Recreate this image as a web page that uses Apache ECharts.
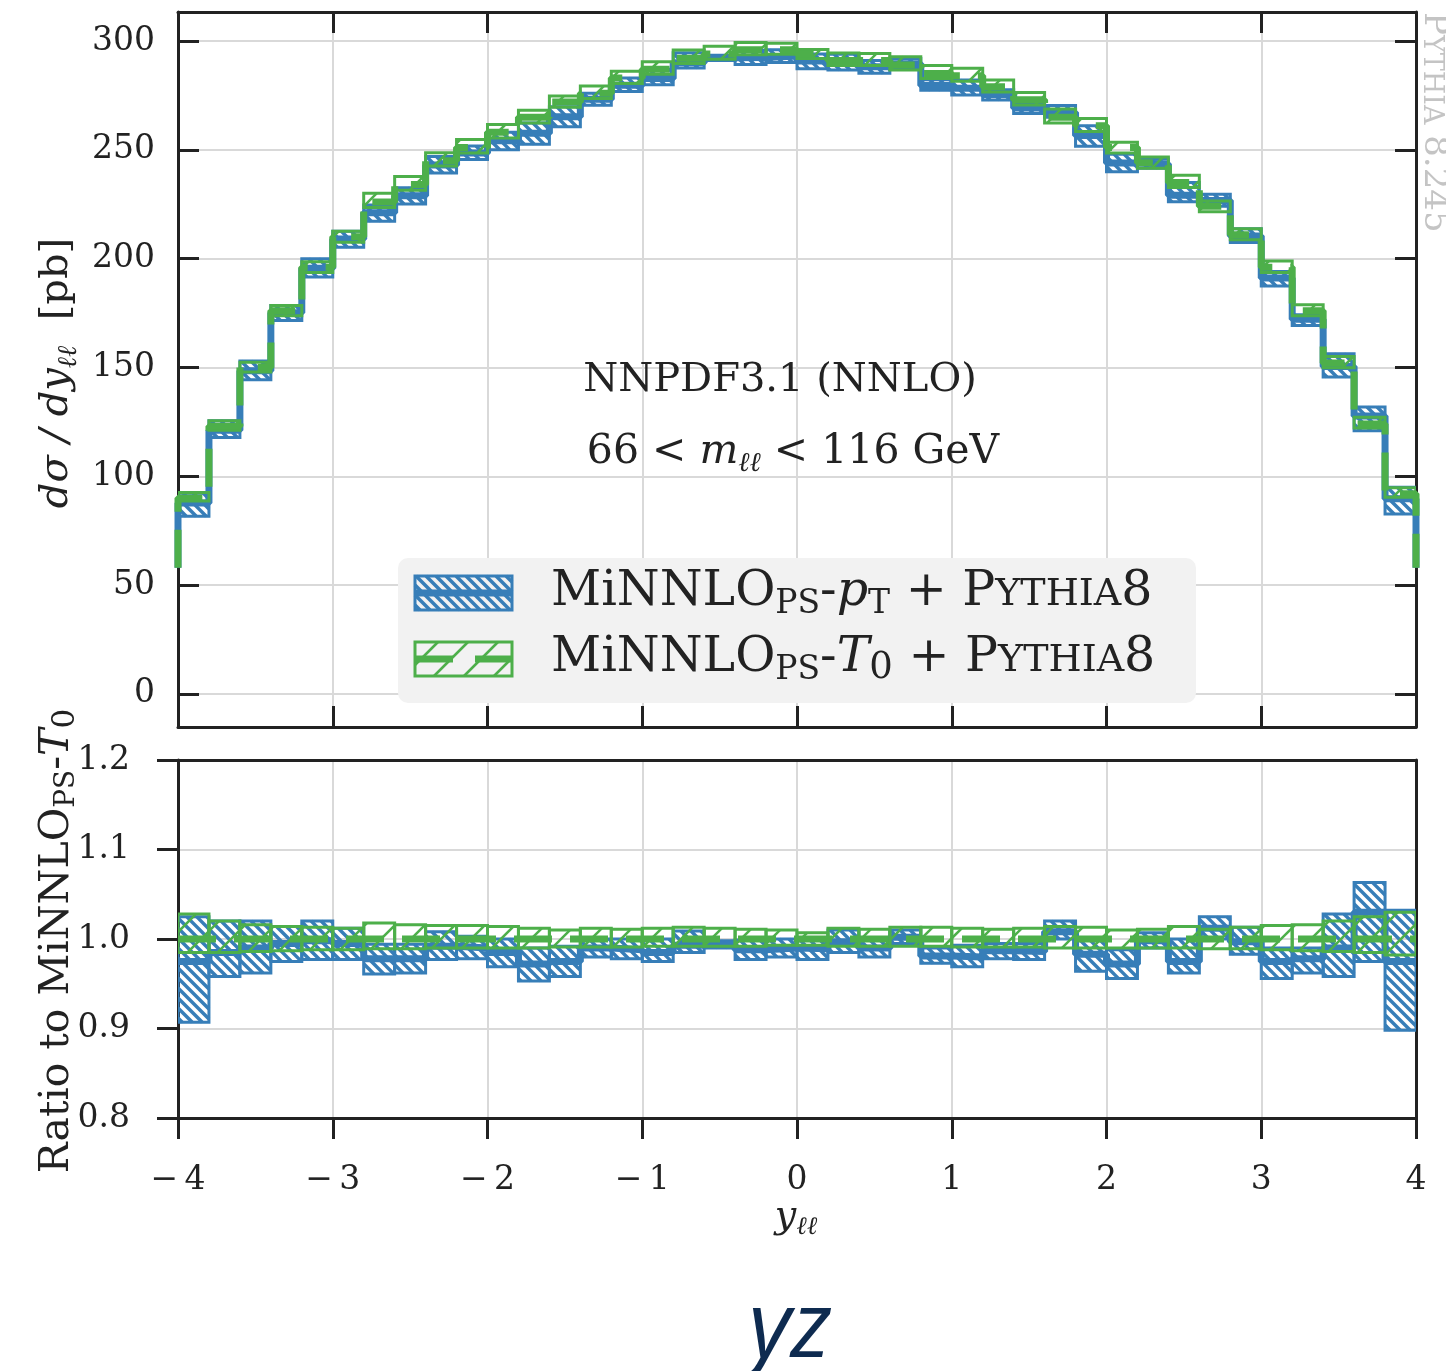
<!DOCTYPE html>
<html>
<head>
<meta charset="utf-8">
<script src="https://cdn.jsdelivr.net/npm/echarts@6/dist/echarts.min.js"></script>
<style>
  html, body { margin: 0; padding: 0; background: #fff; }
  #chart { width: 1446px; height: 1371px; }
</style>
</head>
<body>
<div id="chart"></div>
<script>
// ---- data ----
const binStart = -4.0;
const binWidth = 0.2;

// MiNNLO_PS-T0 + PYTHIA8 central value, dsigma/dy_ll [pb], 40 bins from -4 to 4
const t0Central = [90, 123, 150, 176, 196, 210, 226, 234, 245, 251,
                   258, 265, 272, 276, 283, 287, 292, 294, 296, 296,
                   294, 291, 291, 289, 285, 284, 279, 273, 265, 261,
                   251, 244, 235, 224, 211, 196, 176, 152, 124, 92];
// bins just outside the axis range (only their vertical edge is visible)
const outerLeft = 58;
const outerRight = 58;

// ratio to MiNNLO_PS-T0: pT variant, central and band
const ptRatio = [0.975, 0.985, 0.990, 0.995, 0.998, 0.995, 0.978, 0.978, 0.992, 0.990,
                 0.985, 0.972, 0.975, 0.990, 0.988, 0.985, 0.993, 0.994, 0.988, 0.990,
                 0.989, 0.997, 0.990, 1.002, 0.981, 0.980, 0.987, 0.986, 1.008, 0.983,
                 0.972, 0.998, 0.975, 1.012, 0.997, 0.975, 0.978, 0.990, 1.030, 0.975];
const ptRatioLo = [0.907, 0.958, 0.962, 0.975, 0.977, 0.977, 0.961, 0.962, 0.977, 0.978,
                   0.969, 0.953, 0.958, 0.980, 0.978, 0.975, 0.985, 0.990, 0.977, 0.980,
                   0.977, 0.985, 0.980, 0.995, 0.973, 0.969, 0.978, 0.977, 1.000, 0.964,
                   0.956, 0.990, 0.962, 1.000, 0.983, 0.956, 0.962, 0.958, 0.975, 0.898];
const ptRatioHi = [1.025, 1.020, 1.020, 1.014, 1.020, 1.012, 0.994, 0.994, 1.008, 1.003,
                   1.000, 0.990, 0.992, 1.000, 1.000, 1.000, 1.009, 0.998, 0.999, 1.000,
                   1.000, 1.010, 1.000, 1.010, 0.990, 0.993, 0.995, 0.995, 1.020, 1.000,
                   0.988, 1.007, 1.000, 1.025, 1.013, 0.990, 0.990, 1.028, 1.063, 1.032];
// ratio to MiNNLO_PS-T0: T0 band (its own scale uncertainty)
const t0RatioLo = [0.985, 0.985, 0.986, 0.987, 0.988, 0.988, 0.989, 0.989, 0.990, 0.990,
                   0.990, 0.990, 0.991, 0.991, 0.991, 0.992, 0.992, 0.992, 0.992, 0.993,
                   0.993, 0.992, 0.992, 0.992, 0.992, 0.991, 0.991, 0.991, 0.990, 0.990,
                   0.990, 0.990, 0.990, 0.989, 0.989, 0.988, 0.987, 0.986, 0.985, 0.982];
const t0RatioHi = [1.028, 1.020, 1.016, 1.014, 1.013, 1.012, 1.018, 1.016, 1.015, 1.015,
                   1.014, 1.012, 1.010, 1.012, 1.011, 1.012, 1.013, 1.012, 1.011, 1.010,
                   1.007, 1.012, 1.011, 1.013, 1.013, 1.012, 1.011, 1.012, 1.014, 1.013,
                   1.010, 1.011, 1.014, 1.011, 1.013, 1.015, 1.016, 1.020, 1.025, 1.030];

const yTicksTop = [0, 50, 100, 150, 200, 250, 300];

// ---- styling ----
const BLUE = '#377eb8';
const GREEN = '#4daf4a';
const INK = '#222';
const GRID = '#d9d9d9';
const SERIF = 'DejaVu Serif';
const blueHatch = {dir: 'back', step: 10, width: 3.5, border: 3};
const greenHatch = {dir: 'fwd', step: 30, width: 2.5, border: 3};

// ---- build series data ----
const binLo = t0Central.map((_, i) => +(binStart + i * binWidth).toFixed(2));
const binHi = binLo.map(x => +(x + binWidth).toFixed(2));
const xEnd = binHi[binHi.length - 1];

function stepLine(vals, left, right) {
  const pts = [];
  if (left !== undefined) pts.push([binStart, left]);
  vals.forEach((v, i) => pts.push([binLo[i], v]));
  pts.push([xEnd, right !== undefined ? right : vals[vals.length - 1]]);
  return pts;
}

const ptCentralTop = t0Central.map((v, i) => v * ptRatio[i]);
const ptBandTop = t0Central.map((v, i) => [binLo[i], binHi[i], v * ptRatioLo[i], v * ptRatioHi[i]]);
const t0BandTop = t0Central.map((v, i) => [binLo[i], binHi[i], v * t0RatioLo[i], v * t0RatioHi[i]]);
const ptBandRatio = ptRatio.map((_, i) => [binLo[i], binHi[i], ptRatioLo[i], ptRatioHi[i]]);
const t0BandRatio = t0RatioLo.map((_, i) => [binLo[i], binHi[i], t0RatioLo[i], t0RatioHi[i]]);
const t0CentralRatio = t0Central.map(() => 1.0); // reference divided by itself

// hatched rectangle in pixel space
function hatchRect(x0, y0, x1, y1, color, hatch, z) {
  const out = [];
  const s = hatch.step;
  const zz = z || 0;
  if (hatch.dir === 'back') {
    for (let c = Math.floor((y0 - x1) / s) * s; c <= y1 - x0; c += s) {
      const xa = Math.max(x0, y0 - c), xb = Math.min(x1, y1 - c);
      if (xb - xa > 0.5) out.push({type: 'line', silent: true, z: zz,
        shape: {x1: xa, y1: xa + c, x2: xb, y2: xb + c},
        style: {stroke: color, lineWidth: hatch.width}});
    }
  } else {
    for (let c = Math.floor((x0 + y0) / s) * s; c <= x1 + y1; c += s) {
      const xa = Math.max(x0, c - y1), xb = Math.min(x1, c - y0);
      if (xb - xa > 0.5) out.push({type: 'line', silent: true, z: zz,
        shape: {x1: xa, y1: c - xa, x2: xb, y2: c - xb},
        style: {stroke: color, lineWidth: hatch.width}});
    }
  }
  out.push({type: 'rect', silent: true, z: zz,
    shape: {x: x0, y: y0, width: x1 - x0, height: y1 - y0},
    style: {fill: 'none', stroke: color, lineWidth: hatch.border}});
  return out;
}

function bandRenderer(color, hatch) {
  return function (params, api) {
    const p0 = api.coord([api.value(0), api.value(3)]);
    const p1 = api.coord([api.value(1), api.value(2)]);
    return {type: 'group', children: hatchRect(p0[0], p0[1], p1[0], p1[1], color, hatch)};
  };
}

function band(name, data, color, hatch, axis, z) {
  return {
    name: name, type: 'custom', xAxisIndex: axis, yAxisIndex: axis, z: z,
    renderItem: bandRenderer(color, hatch),
    encode: {x: [0, 1], y: [2, 3]},
    data: data, silent: true, clip: true
  };
}

function line(name, data, color, dash, axis, z) {
  return {
    name: name, type: 'line', step: 'end', xAxisIndex: axis, yAxisIndex: axis, z: z,
    symbol: 'none', showSymbol: false, silent: true, clip: true,
    lineStyle: {color: color, width: 7, type: dash, cap: 'butt'},
    data: data
  };
}

const axLine = {show: true, onZero: false, lineStyle: {color: INK, width: 3}};
const tickStyle = {color: INK, width: 3};
const tickLabel = {show: true, fontFamily: SERIF, fontSize: 33, color: INK};

function xAx(grid, pos, opts) {
  return Object.assign({
    type: 'value', gridIndex: grid, position: pos, min: -4, max: 4, interval: 1,
    axisLine: axLine, axisTick: {show: false}, axisLabel: {show: false},
    splitLine: {show: false}
  }, opts);
}

function yAx(grid, pos, opts) {
  return Object.assign({
    type: 'value', gridIndex: grid, position: pos,
    axisLine: axLine, axisTick: {show: false}, axisLabel: {show: false},
    splitLine: {show: false}
  }, opts);
}

function tok(size, extra) {
  return Object.assign({fontFamily: SERIF, fontSize: size, lineHeight: size, fill: INK, verticalAlign: 'top'}, extra || {});
}

const legendRich = {
  b:   tok(49),
  i:   tok(49, {fontStyle: 'italic'}),
  sc:  tok(33, {padding: [20, 0, 0, 0]}),
  sc2: tok(38, {padding: [8, 0, 0, 0]}),
  s0:  tok(37, {padding: [16, 0, 0, 0]})
};

const graphics = [
  // legend box
  {type: 'rect', z: 50, shape: {x: 398, y: 558, width: 798, height: 145, r: 10}, style: {fill: '#f2f2f2'}},
  {type: 'group', z: 51, children: hatchRect(415, 576, 512, 610, BLUE, blueHatch, 51)},
  {type: 'line', z: 52, shape: {x1: 415, y1: 593, x2: 512, y2: 593}, style: {stroke: BLUE, lineWidth: 7}},
  {type: 'group', z: 51, children: hatchRect(415, 642, 512, 676, GREEN, greenHatch, 51)},
  {type: 'line', z: 52, shape: {x1: 415, y1: 659, x2: 512, y2: 659}, style: {stroke: GREEN, lineWidth: 7, lineDash: [38, 22]}},
  {type: 'text', z: 52, style: {x: 551, y: 568, align: 'left', verticalAlign: 'top',
    text: '{b|MiNNLO}{sc|PS}{b|-}{i|p}{sc|T}{b| + P}{sc2|YTHIA}{b|8}', rich: legendRich}},
  {type: 'text', z: 52, style: {x: 551, y: 634, align: 'left', verticalAlign: 'top',
    text: '{b|MiNNLO}{sc|PS}{b|-}{i|T}{s0|0}{b| + P}{sc2|YTHIA}{b|8}', rich: legendRich}},

  // annotations
  {type: 'text', z: 20, style: {x: 780, y: 381, align: 'center', verticalAlign: 'middle',
    text: 'NNPDF3.1 (NNLO)', font: '40px "DejaVu Serif"', fill: INK}},
  {type: 'text', z: 20, style: {x: 793, y: 452, align: 'center', verticalAlign: 'middle',
    text: '{n|66 < }{i|m}{s|ℓℓ}{n| < 116 GeV}',
    rich: {n: tok(41), i: tok(41, {fontStyle: 'italic'}), s: tok(27, {fontStyle: 'italic', padding: [19, 0, 0, 0]})}}},

  // y axis titles
  {type: 'text', z: 20, x: 57, y: 373, rotation: Math.PI / 2, style: {x: 0, y: 0, align: 'center', verticalAlign: 'middle',
    text: '{i|dσ / dy}{s|ℓℓ}{n|  [pb]}',
    rich: {i: tok(40, {fontStyle: 'italic'}), s: tok(27, {fontStyle: 'italic', padding: [18, 0, 0, 0]}), n: tok(40)}}},
  {type: 'text', z: 20, x: 57, y: 941, rotation: Math.PI / 2, style: {x: 0, y: 0, align: 'center', verticalAlign: 'middle',
    text: '{n|Ratio to MiNNLO}{s|PS}{n|-}{i|T}{z|0}',
    rich: {n: tok(41), i: tok(41, {fontStyle: 'italic'}), s: tok(28, {padding: [16, 0, 0, 0]}), z: tok(31, {padding: [14, 0, 0, 0]})}}},

  // x axis title
  {type: 'text', z: 20, style: {x: 796, y: 1198, align: 'center', verticalAlign: 'top',
    text: '{i|y}{s|ℓℓ}',
    rich: {i: tok(38, {fontStyle: 'italic'}), s: tok(25, {fontStyle: 'italic', padding: [17, 0, 0, 0]})}}},

  // generator tag on the right edge
  {type: 'text', z: 20, x: 1434, y: 12, rotation: -Math.PI / 2, style: {x: 0, y: 0, align: 'left', verticalAlign: 'middle',
    text: '{b|P}{s|YTHIA}{b| 8.245}',
    rich: {b: tok(34, {fill: '#c4c4c4'}), s: tok(27, {fill: '#c4c4c4', padding: [6, 0, 0, 0]})}}},

  // caption
  {type: 'text', z: 20, style: {x: 790, y: 1331, align: 'center', verticalAlign: 'middle',
    text: 'yz', font: 'italic 92px "Open Sans"', fill: '#0e2b50'}}
];

const option = {
  animation: false,
  backgroundColor: '#fff',
  grid: [
    {left: 178, top: 12, width: 1238, height: 715},
    {left: 178, top: 760, width: 1238, height: 358}
  ],
  xAxis: [
    xAx(0, 'bottom', {
      axisTick: {show: true, inside: true, length: 21, lineStyle: tickStyle},
      splitLine: {show: true, lineStyle: {color: GRID, width: 2}}
    }),
    xAx(0, 'top', {axisTick: {show: true, inside: true, length: 21, lineStyle: tickStyle}}),
    xAx(1, 'bottom', {
      axisTick: {show: true, inside: false, length: 21, lineStyle: tickStyle},
      axisLabel: Object.assign({}, tickLabel, {margin: 46,
        formatter: v => (v < 0 ? '\u2212\u2009' + (-v) : String(v))}),
      splitLine: {show: true, lineStyle: {color: GRID, width: 2}}
    }),
    xAx(1, 'top', {})
  ],
  yAxis: [
    yAx(0, 'left', {
      min: -15.2, max: 313.3,
      axisTick: {show: true, inside: true, length: 21, lineStyle: tickStyle, customValues: yTicksTop},
      axisLabel: Object.assign({}, tickLabel, {margin: 23, customValues: yTicksTop}),
      splitLine: {show: true, lineStyle: {color: GRID, width: 2}}
    }),
    yAx(0, 'right', {
      min: -15.2, max: 313.3,
      axisTick: {show: true, inside: true, length: 21, lineStyle: tickStyle, customValues: yTicksTop}
    }),
    yAx(1, 'left', {
      min: 0.8, max: 1.2, interval: 0.1,
      axisTick: {show: true, inside: false, length: 21, lineStyle: tickStyle},
      axisLabel: Object.assign({}, tickLabel, {margin: 48, formatter: v => v.toFixed(1)}),
      splitLine: {show: true, lineStyle: {color: GRID, width: 2}}
    }),
    yAx(1, 'right', {min: 0.8, max: 1.2, interval: 0.1})
  ],
  series: [
    band('pT band', ptBandTop, BLUE, blueHatch, 0, 2),
    line('pT', stepLine(ptCentralTop, outerLeft, outerRight), BLUE, 'solid', 0, 3),
    band('T0 band', t0BandTop, GREEN, greenHatch, 0, 4),
    line('T0', stepLine(t0Central, outerLeft, outerRight), GREEN, [38, 18], 0, 5),

    band('pT ratio band', ptBandRatio, BLUE, blueHatch, 2, 2),
    line('pT ratio', stepLine(ptRatio), BLUE, 'solid', 2, 3),
    band('T0 ratio band', t0BandRatio, GREEN, greenHatch, 2, 4),
    line('T0 ratio', stepLine(t0CentralRatio), GREEN, [38, 18], 2, 5)
  ],
  graphic: graphics
};

const chart = echarts.init(document.getElementById('chart'), null, {renderer: 'canvas'});
chart.setOption(option);
</script>
</body>
</html>
